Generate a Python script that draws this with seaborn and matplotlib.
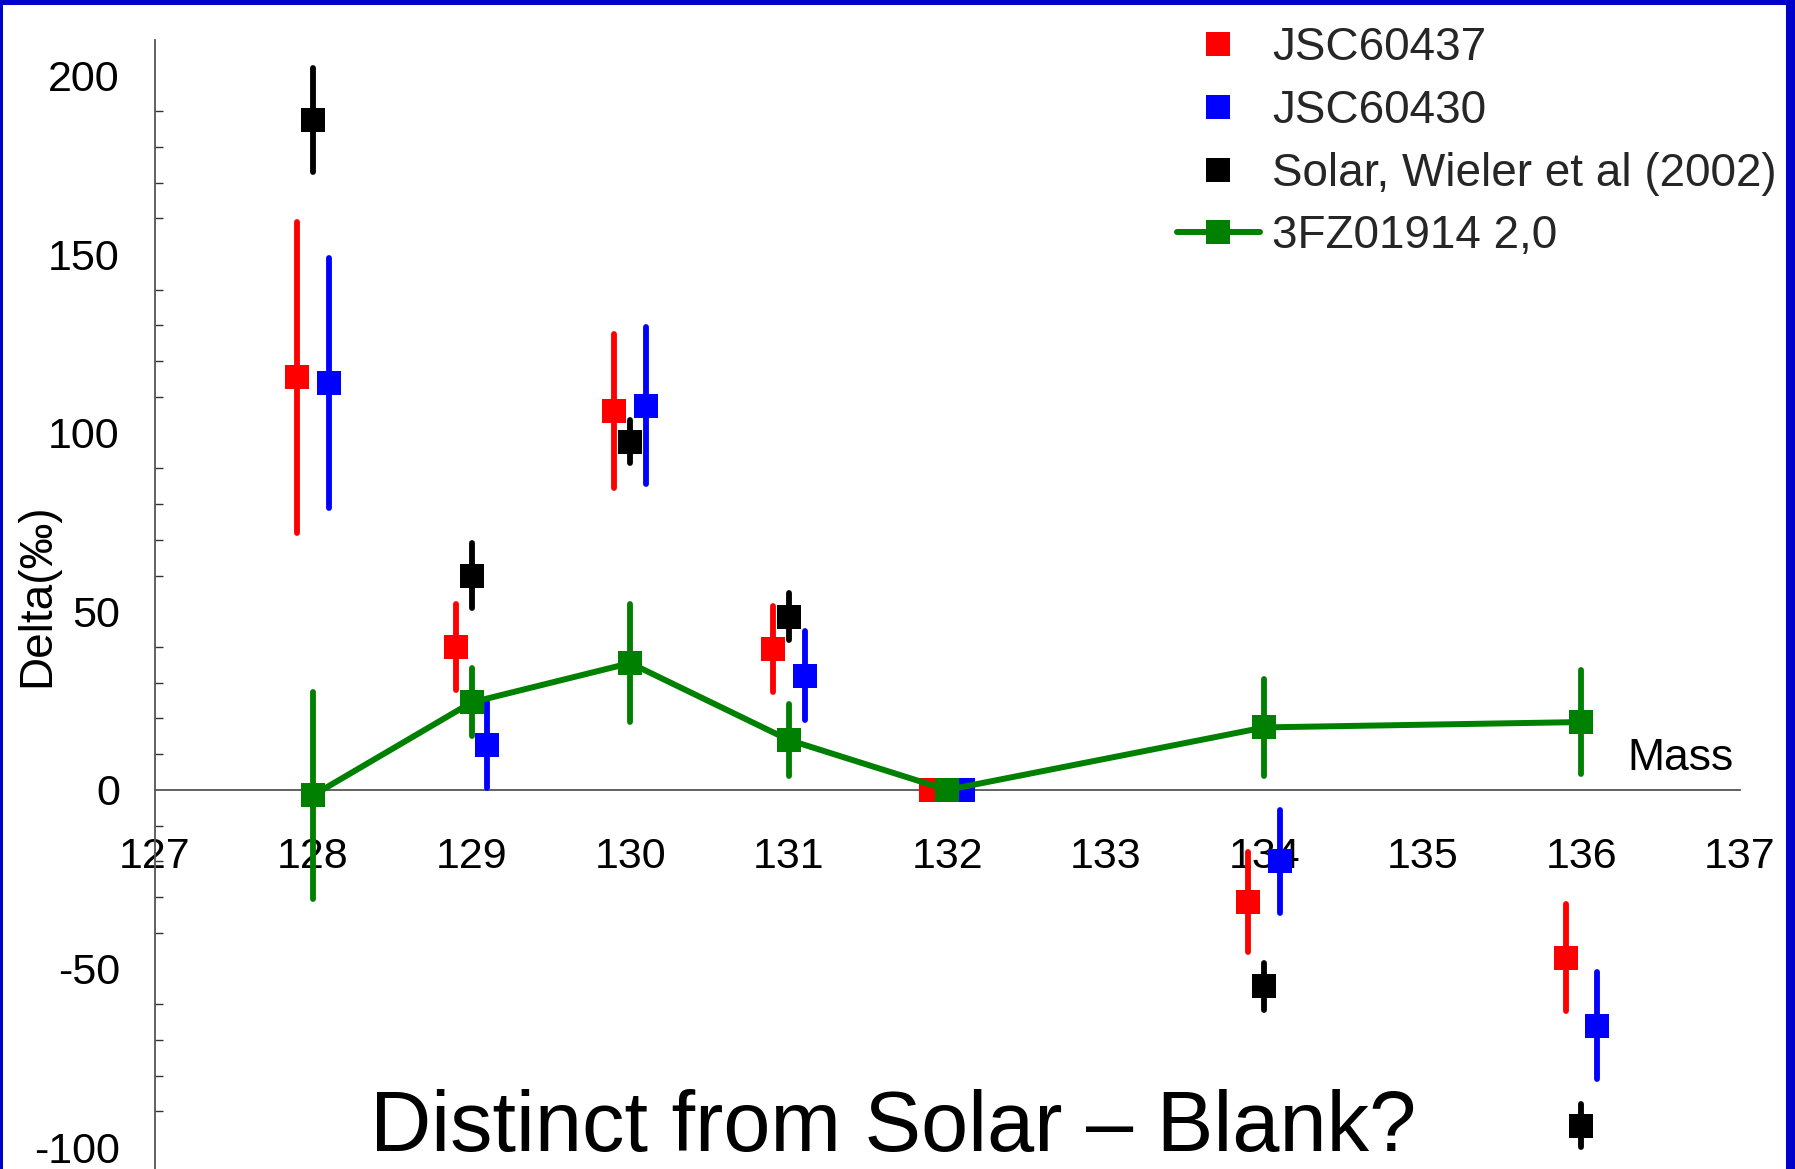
import matplotlib
matplotlib.use('Agg')
import numpy as np
import pandas as pd
import matplotlib.pyplot as plt
from matplotlib.lines import Line2D
from matplotlib.patches import Rectangle
from matplotlib.ticker import MultipleLocator, FixedLocator
import seaborn as sns

# ---------------- data ----------------
masses = [128, 129, 130, 131, 132, 134, 136]

jsc60437 = [115.5, 40.0, 106.0, 39.5, 0.0, -31.5, -47.0]
jsc60437_err = [43.5, 12.0, 21.5, 12.0, 0.0, 14.0, 15.0]

jsc60430 = [114.0, 12.5, 107.5, 32.0, 0.0, -20.0, -66.0]
jsc60430_err = [35.0, 12.0, 22.0, 12.5, 0.0, 14.5, 15.0]

solar = [187.5, 60.0, 97.5, 48.5, 0.0, -55.0, -94.0]
solar_err = [14.5, 9.0, 6.0, 6.5, 0.0, 6.5, 6.0]

fz01914 = [-1.5, 24.5, 35.5, 14.0, 0.0, 17.5, 19.0]
fz01914_err = [29.0, 9.5, 16.5, 10.0, 0.0, 13.5, 14.5]

series_names = ['JSC60437', 'JSC60430', 'Solar, Wieler et al (2002)', '3FZ01914 2,0']
x_tick_values = list(range(127, 138))
y_tick_values = [-100, -50, 0, 50, 100, 150, 200]

# ---------------- style ----------------
colors = ['#FF0000', '#0000FF', '#000000', '#008000']
dodge = [-0.1, 0.1, 0.0, 0.0]

sns.set_style('white')
plt.rcParams['font.family'] = ['Liberation Sans', 'DejaVu Sans']

frames = []
for name, vals, errs, dx in zip(series_names,
                                [jsc60437, jsc60430, solar, fz01914],
                                [jsc60437_err, jsc60430_err, solar_err, fz01914_err],
                                dodge):
    frames.append(pd.DataFrame({'series': name, 'mass': masses,
                                'xpos': np.array(masses, dtype=float) + dx,
                                'delta': vals, 'err': errs}))
df = pd.concat(frames, ignore_index=True)

W, H = 1795, 1169
fig = plt.figure(figsize=(W / 100, H / 100), dpi=100, facecolor='white')
ax = fig.add_axes([154.5 / W, 0.0, (1740 - 154.5) / W, 1 - 40 / H])
ax.set_facecolor('white')

MS = 17.5
ELW = 4.2
LW = 4.3
for i, name in enumerate(series_names):
    sub = df[df['series'] == name]
    c = colors[i]
    eb = ax.errorbar(sub['xpos'], sub['delta'], yerr=sub['err'], fmt='none',
                     ecolor=c, elinewidth=ELW, capsize=0, zorder=3 + i)
    for lc in eb.lines[2]:
        lc.set_capstyle('round')
    if i < 3:
        sns.scatterplot(data=sub, x='xpos', y='delta', color=c, marker='s',
                        s=MS ** 2, linewidth=0, ax=ax, zorder=3.5 + i, legend=False)
    else:
        sns.lineplot(data=sub, x='xpos', y='delta', color=c, linewidth=LW,
                     marker='s', markersize=MS, markeredgewidth=0,
                     estimator=None, sort=False, ax=ax, zorder=3.5 + i, legend=False)

ax.set_xlim(127, 137)
ax.set_ylim(-106.1, 209.9)
ax.set_xlabel('')
ax.set_ylabel('')

for s in ['top', 'right']:
    ax.spines[s].set_visible(False)
ax.spines['bottom'].set_position(('data', 0))
for s in ['left', 'bottom']:
    ax.spines[s].set_color('#555555')
    ax.spines[s].set_linewidth(1.3)
    ax.spines[s].set_zorder(1)
ax.set_axisbelow(True)

ax.xaxis.set_major_locator(FixedLocator(x_tick_values))
ax.set_xticklabels([str(v) for v in x_tick_values])
ax.yaxis.set_major_locator(FixedLocator(y_tick_values))
ax.set_yticklabels([str(v) for v in y_tick_values])
ax.yaxis.set_minor_locator(MultipleLocator(10))
ax.tick_params(axis='both', which='major', direction='in', length=10, width=1.1,
               color='#333333', labelsize=31, labelcolor='black')
ax.tick_params(axis='x', which='major', pad=34)
ax.tick_params(axis='y', which='major', pad=25)
ax.tick_params(axis='y', which='minor', direction='in', length=6, width=1.0,
               color='#333333', left=True)
ax.tick_params(axis='x', which='minor', bottom=False)
ax.grid(False)

ax.text(136.96, 5.5, 'Mass', ha='right', va='baseline', fontsize=32, color='black')

fig.text(37 / W, 0.491, 'Delta(‰)', rotation=90, ha='center', va='center',
         fontsize=33, color='black')

fig.text(893 / W, 1 - 1151 / H, 'Distinct from Solar – Blank?', ha='center',
         va='baseline', fontsize=61, color='black')

handles = []
for i, name in enumerate(series_names):
    if i < 3:
        handles.append(Line2D([], [], color=colors[i], marker='s', linestyle='none',
                              markersize=MS, markeredgewidth=0))
    else:
        handles.append(Line2D([], [], color=colors[i], marker='s', linestyle='-',
                              linewidth=LW, markersize=MS, markeredgewidth=0))
fig.legend(handles=handles, labels=series_names, loc='upper left',
           bbox_to_anchor=(1177 / W, 1 - 26 / H), bbox_transform=fig.transFigure,
           frameon=False, fontsize=33, handlelength=1.8, handletextpad=0.28,
           labelspacing=0.41, borderpad=0, borderaxespad=0)

border = '#0000CC'
fig.add_artist(Rectangle((0, 1 - 5 / H), 1, 5 / H, transform=fig.transFigure,
                         facecolor=border, edgecolor='none', zorder=20))
fig.add_artist(Rectangle((0, 0), 3 / W, 1, transform=fig.transFigure,
                         facecolor=border, edgecolor='none', zorder=20))
fig.add_artist(Rectangle((1786 / W, 0), 9 / W, 1, transform=fig.transFigure,
                         facecolor=border, edgecolor='none', zorder=20))

fig.savefig('out.png', dpi=100, facecolor='white')
